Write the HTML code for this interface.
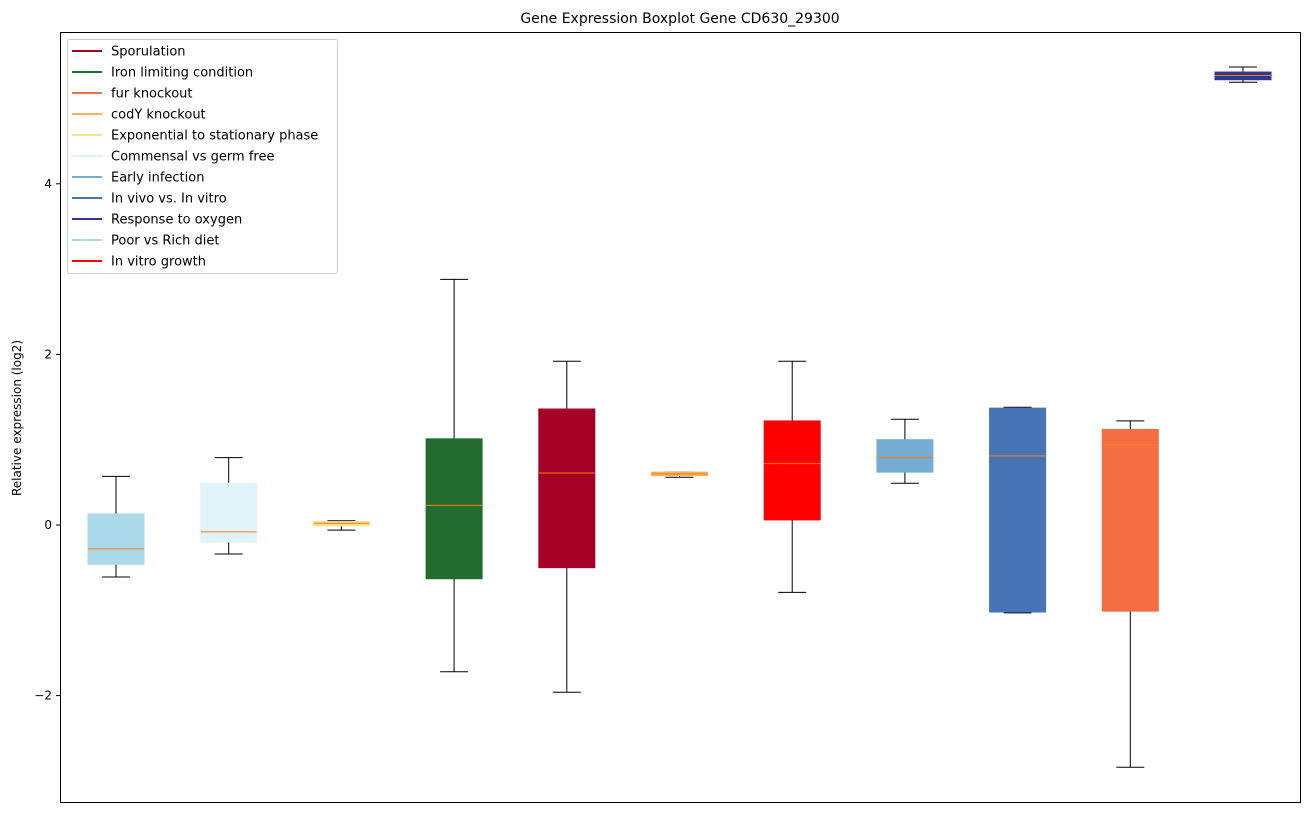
<!DOCTYPE html>
<html><head><meta charset="utf-8"><style>
body{margin:0;background:#fff;font-family:"Liberation Sans","DejaVu Sans",sans-serif;}
svg text{font-family:"DejaVu Sans","Liberation Sans",sans-serif;}
</style></head><body>
<svg id="chart" width="1309" height="812" xmlns="http://www.w3.org/2000/svg">
<text x="680" y="23" font-size="14" text-anchor="middle">Gene Expression Boxplot Gene CD630_29300</text>
<text x="21" y="418" font-size="12" text-anchor="middle" transform="rotate(-90 21 418)">Relative expression (log2)</text>
<g id="plot"></g>
<rect x="60.5" y="32.5" width="1240" height="770" fill="none" stroke="#000" stroke-width="1"/>
<g id="legend"></g>
</svg>
<script>
const categories=["Poor vs Rich diet","Commensal vs germ free","Exponential to stationary phase","Iron limiting condition","Sporulation","codY knockout","In vitro growth","Early infection","In vivo vs. In vitro","fur knockout","Response to oxygen"];
const colors=["#abd9e9","#e0f3f8","#fee090","#236b2e","#a50026","#fdae61","#ff0000","#74add1","#4575b4","#f46d43","#313695"];
const whiskLow=[-0.61,-0.34,-0.06,-1.72,-1.96,0.56,-0.79,0.49,-1.03,-2.84,5.19];
const q1=[-0.46,-0.20,-0.01,-0.63,-0.50,0.58,0.06,0.62,-1.02,-1.01,5.22];
const median=[-0.28,-0.08,0.02,0.23,0.61,0.60,0.72,0.79,0.81,0.94,5.27];
const q3=[0.13,0.49,0.04,1.01,1.36,0.62,1.22,1.00,1.37,1.12,5.31];
const whiskHigh=[0.57,0.79,0.05,2.88,1.92,0.62,1.92,1.24,1.38,1.22,5.37];
const yTicks=[-2,0,2,4];
const legendLabels=["Sporulation","Iron limiting condition","fur knockout","codY knockout","Exponential to stationary phase","Commensal vs germ free","Early infection","In vivo vs. In vitro","Response to oxygen","Poor vs Rich diet","In vitro growth"];
const legendColors=["#a50026","#236b2e","#f46d43","#fdae61","#fee090","#e0f3f8","#74add1","#4575b4","#313695","#abd9e9","#ff0000"];

const NS="http://www.w3.org/2000/svg";
const plot=document.getElementById('plot');
const y=v=>525-v*85.3;
const x=i=>116+i*112.7;
const bw=56;
function mk(tag,attrs,parent){const e=document.createElementNS(NS,tag);for(const k in attrs)e.setAttribute(k,attrs[k]);parent.appendChild(e);return e;}
yTicks.forEach(t=>{
  const tk=mk('line',{x1:56,x2:60,y1:y(t),y2:y(t),stroke:'#000'},plot);
  
  
  const lb=mk('text',{x:52,y:y(t)+4,'font-size':12,'text-anchor':'end'},plot);
  lb.textContent=t<0?'\u2212'+Math.abs(t):String(t);
  
  
});
categories.forEach((c,i)=>{
  const g=mk('g',{},plot);
  
  
  const cx=x(i);
  mk('line',{x1:cx,x2:cx,y1:y(whiskHigh[i]),y2:y(q3[i]),stroke:'#000'},g);
  mk('line',{x1:cx,x2:cx,y1:y(q1[i]),y2:y(whiskLow[i]),stroke:'#000'},g);
  mk('line',{x1:cx-bw/4,x2:cx+bw/4,y1:y(whiskHigh[i]),y2:y(whiskHigh[i]),stroke:'#000'},g);
  mk('line',{x1:cx-bw/4,x2:cx+bw/4,y1:y(whiskLow[i]),y2:y(whiskLow[i]),stroke:'#000'},g);
  mk('rect',{x:cx-bw/2,y:y(q3[i]),width:bw,height:Math.max(1,y(q1[i])-y(q3[i])),fill:colors[i],stroke:colors[i]},g);
  mk('line',{x1:cx-bw/2,x2:cx+bw/2,y1:y(median[i]),y2:y(median[i]),stroke:'#ff7f0e'},g);
});
const lg=document.getElementById('legend');
const lr=mk('rect',{x:67.5,y:39.5,width:270,height:234,fill:'#fff','fill-opacity':0.8,stroke:'#ccc',rx:2},lg);


legendLabels.forEach((l,i)=>{
  const g=mk('g',{},lg);
  
  
  const yy=51+i*21;
  mk('line',{x1:72,x2:102,y1:yy,y2:yy,stroke:legendColors[i],'stroke-width':2},g);
  const t=mk('text',{x:111,y:yy+4.5,'font-size':13},g);
  t.textContent=l;
});
</script>
</body></html>
